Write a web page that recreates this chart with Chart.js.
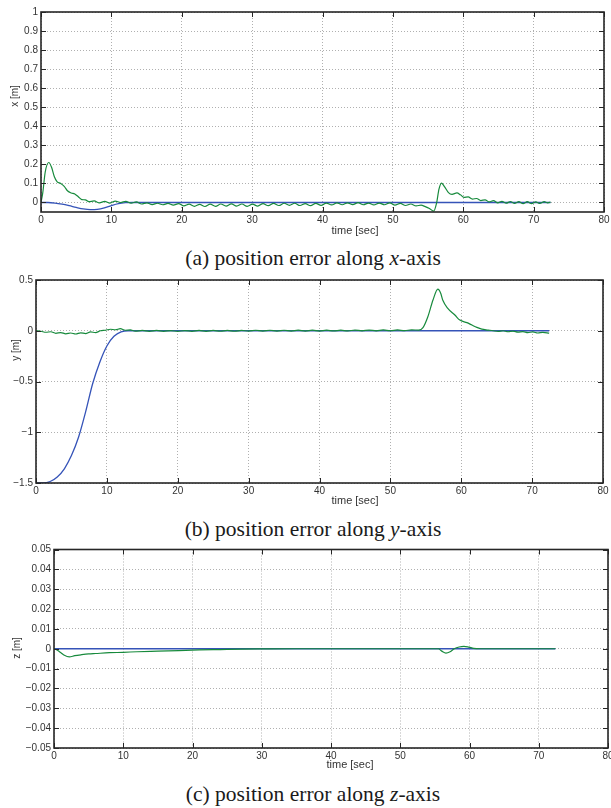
<!DOCTYPE html>
<html>
<head>
<meta charset="utf-8">
<script src="https://cdn.jsdelivr.net/npm/chart.js@4.4.1/dist/chart.umd.min.js"></script>
<style>
    html, body { margin: 0; padding: 0; background: #fff; }
    body { width: 611px; height: 808px; position: relative; overflow: hidden; }
    canvas { position: absolute; left: 0; }
    .caption {
        position: absolute;
        left: 0;
        width: 626px;
        text-align: center;
        font-family: 'Liberation Serif', 'Times New Roman', serif;
        font-size: 21.5px;
        line-height: 24px;
        color: #1a1a1a;
        white-space: nowrap;
    }
</style>
</head>
<body>
<canvas id="panelX" width="611" height="240" style="top:0px"></canvas>
<div class="caption" style="top:246px">(a) position error along <i>x</i>-axis</div>
<canvas id="panelY" width="611" height="240" style="top:268px"></canvas>
<div class="caption" style="top:517px">(b) position error along <i>y</i>-axis</div>
<canvas id="panelZ" width="611" height="240" style="top:537px"></canvas>
<div class="caption" style="top:782px">(c) position error along <i>z</i>-axis</div>

<script>
// shared time axis ticks
const timeTicks = [0, 10, 20, 30, 40, 50, 60, 70, 80];
const timeLabels = ['0', '10', '20', '30', '40', '50', '60', '70', '80'];

// (a) x-axis error
const xTicks = [0, 0.1, 0.2, 0.3, 0.4, 0.5, 0.6, 0.7, 0.8, 0.9, 1];
const xLabels = ['0', '0.1', '0.2', '0.3', '0.4', '0.5', '0.6', '0.7', '0.8', '0.9', '1'];
const xBlueTime = [0, 1, 2, 3, 4, 5, 6, 7, 8, 9, 10, 11, 12, 13, 72.4];
const xBlueValue = [0, 0, -0.003, -0.009, -0.017, -0.026, -0.034, -0.038, -0.036, -0.028, -0.016, -0.006, -0.001, 0, 0];
const xGreenTime = [
    0, 0.25, 0.6, 1.1, 1.5, 1.9, 2.3, 2.8, 3.3, 3.8, 4.3, 4.8, 5.3, 5.8, 6.3, 6.8,
    7.55, 8.3, 9.05, 9.8, 10.55, 11.3, 12.05, 12.8, 13.55, 14.3, 15.05, 15.8, 16.55, 17.3, 18.05, 18.8,
    19.55, 20.3, 21.05, 21.8, 22.55, 23.3, 24.05, 24.8, 25.55, 26.3, 27.05, 27.8, 28.55, 29.3, 30.05, 30.8,
    31.55, 32.3, 33.05, 33.8, 34.55, 35.3, 36.05, 36.8, 37.55, 38.3, 39.05, 39.8, 40.55, 41.3, 42.05, 42.8,
    43.55, 44.3, 45.05, 45.8, 46.55, 47.3, 48.05, 48.8, 49.55, 50.3, 51.05, 51.8, 52.55, 53.3, 54.0, 54.6,
    55.2, 55.8, 56.2, 56.55, 56.9, 57.3, 57.9, 58.4, 59.1, 59.6, 60.1, 60.7, 61.3, 61.9, 62.5, 63.1,
    63.7, 64.3, 64.9, 65.5, 66.1, 66.7, 67.3, 67.9, 68.5, 69.1, 69.7, 70.3, 70.9, 71.5, 72.0, 72.4
];
const xGreenValue = [
    0, 0.05, 0.16, 0.21, 0.185, 0.135, 0.108, 0.1, 0.085, 0.06, 0.05, 0.045, 0.03, 0.015, 0.014, 0.004,
    0.008, -0.002, 0.006, -0.003, 0.007, 0, 0.006, -0.003, 0.003, -0.008, -0.002, -0.011, -0.004, -0.012, -0.005, -0.014,
    -0.006, -0.018, -0.009, -0.02, -0.01, -0.021, -0.009, -0.02, -0.008, -0.019, -0.007, -0.019, -0.008, -0.02, -0.009, -0.019,
    -0.006, -0.017, -0.005, -0.016, -0.004, -0.015, -0.004, -0.016, -0.006, -0.017, -0.005, -0.015, -0.003, -0.013, -0.002, -0.012,
    -0.002, -0.011, -0.001, -0.012, -0.003, -0.013, -0.003, -0.012, -0.002, -0.014, -0.005, -0.016, -0.008, -0.018, -0.014, -0.022,
    -0.032, -0.045, -0.005, 0.07, 0.102, 0.085, 0.052, 0.043, 0.05, 0.04, 0.027, 0.029, 0.018, 0.021, 0.01, 0.014,
    0.003, 0.01, -0.002, 0.006, -0.004, 0.005, -0.005, 0.004, -0.006, 0.004, -0.006, 0.003, -0.005, 0.004, -0.002, 0.002
];

// (b) y-axis error
const yTicks = [-1.5, -1, -0.5, 0, 0.5];
const yLabels = ['\u22121.5', '\u22121', '\u22120.5', '0', '0.5'];
const yBlueTime = [0, 1, 2, 3, 4, 5, 6, 7, 8, 9, 10, 11, 12, 13, 72.4];
const yBlueValue = [-1.5, -1.5, -1.485, -1.44, -1.36, -1.23, -1.05, -0.8, -0.52, -0.31, -0.15, -0.055, -0.012, 0, 0];
const yGreenTime = [
    0, 0.7, 1.4, 2.1, 2.8, 3.5, 4.2, 4.9, 5.6, 6.3, 7.0, 7.7, 8.4, 9.1, 9.8, 10.5,
    11.2, 11.9, 12.6, 13.3, 14, 15, 16, 17, 18, 19, 20, 21, 22, 23, 24, 25,
    26, 27, 28, 29, 30, 31, 32, 33, 34, 35, 36, 37, 38, 39, 40, 41,
    42, 43, 44, 45, 46, 47, 48, 49, 50, 51, 52, 53, 54, 54.6, 55.3, 56.0,
    56.7, 57.1, 57.4, 58.1, 59.1, 59.8, 60.8, 61.5, 62.2, 62.9, 63.8, 64.5, 65.2, 65.9, 66.6, 67.3,
    68.0, 68.7, 69.4, 70.1, 70.8, 71.5, 72.4
];
const yGreenValue = [
    0, -0.005, -0.015, -0.01, -0.025, -0.018, -0.03, -0.022, -0.032, -0.02, -0.028, -0.012, -0.018, 0, 0.005, 0.015,
    0.01, 0.02, 0.005, 0.008, -0.004, 0.003, -0.006, 0.003, -0.006, 0.002, -0.007, 0.002, -0.006, 0.003, -0.006, 0.003,
    -0.005, 0.004, -0.005, 0.004, -0.004, 0.005, -0.004, 0.005, -0.004, 0.005, -0.003, 0.006, -0.003, 0.006, -0.003, 0.006,
    -0.002, 0.006, -0.002, 0.007, -0.001, 0.007, -0.001, 0.008, 0, 0.008, 0.001, 0.009, 0.006, 0.03, 0.14, 0.3,
    0.41, 0.37, 0.3, 0.22, 0.155, 0.105, 0.08, 0.056, 0.033, 0.016, 0.007, 0, -0.006, 0, -0.01, -0.004,
    -0.014, -0.008, -0.018, -0.012, -0.022, -0.016, -0.024
];

// (c) z-axis error
const zTicks = [-0.05, -0.04, -0.03, -0.02, -0.01, 0, 0.01, 0.02, 0.03, 0.04, 0.05];
const zLabels = ['\u22120.05', '\u22120.04', '\u22120.03', '\u22120.02', '\u22120.01', '0', '0.01', '0.02', '0.03', '0.04', '0.05'];
const zBlueTime = [0, 72.4];
const zBlueValue = [0, 0];
const zGreenTime = [
    0, 0.5, 1.0, 1.5, 2.2, 3, 4, 5, 6, 8, 10, 12, 15, 18, 21, 24,
    27, 30, 35, 40, 45, 50, 55.5, 56.0, 56.6, 57.2, 57.8, 58.5, 59.2, 59.9, 60.6, 61.5,
    65, 72.4
];
const zGreenValue = [
    0, -0.0008, -0.002, -0.0033, -0.0041, -0.0035, -0.003, -0.0026, -0.0024, -0.002, -0.0018, -0.0015, -0.0012, -0.0009, -0.0006, -0.0004,
    -0.0002, -0.0001, 0, 0, 0, 0, 0, -0.0012, -0.0022, -0.0015, 0, 0.0009, 0.0012, 0.0008, 0.0002, 0,
    0, 0
];

const BLUE = '#3553b8';
const GREEN = '#178a3c';
const TICK_FONT = { family: '"Liberation Sans", Arial, sans-serif', size: 10 };

function toPoints(times, values) {
    return times.map((t, i) => ({ x: t, y: values[i] }));
}

const framePlugin = {
    id: 'frame',
    afterDraw(chart, args, opts) {
        const { ctx, chartArea: a, scales } = chart;
        ctx.save();
        ctx.strokeStyle = '#262626';
        ctx.lineWidth = 1;
        ctx.beginPath();
        scales.x.ticks.forEach((tick) => {
            const px = Math.round(scales.x.getPixelForValue(tick.value)) + 0.5;
            ctx.moveTo(px, a.bottom);
            ctx.lineTo(px, a.bottom - 5);
            ctx.moveTo(px, a.top);
            ctx.lineTo(px, a.top + 5);
        });
        scales.y.ticks.forEach((tick) => {
            const py = Math.round(scales.y.getPixelForValue(tick.value)) + 0.5;
            ctx.moveTo(a.left, py);
            ctx.lineTo(a.left + 5, py);
            ctx.moveTo(a.right, py);
            ctx.lineTo(a.right - 5, py);
        });
        ctx.stroke();

        ctx.lineWidth = 1.6;
        ctx.strokeRect(a.left, a.top, a.right - a.left, a.bottom - a.top);

        ctx.fillStyle = '#333';
        ctx.textAlign = 'center';
        ctx.textBaseline = 'middle';
        ctx.font = '11px "Liberation Sans", Arial, sans-serif';
        ctx.fillText(opts.xTitle, opts.xTitleAt[0], opts.xTitleAt[1]);
        ctx.font = '10px "Liberation Sans", Arial, sans-serif';
        ctx.translate(opts.yTitleAt[0], opts.yTitleAt[1]);
        ctx.rotate(-Math.PI / 2);
        ctx.fillText(opts.yTitle, 0, 0);
        ctx.restore();
    },
};

function renderPanel(panel) {
    const canvas = document.getElementById(panel.id);

    if (!canvas) {
        return;
    }

    new Chart(canvas, {
        type: 'line',
        data: {
            datasets: [
                {
                    data: toPoints(panel.greenTime, panel.greenValue),
                    borderColor: GREEN,
                    borderWidth: 1.2,
                    cubicInterpolationMode: 'monotone',
                },
                {
                    data: toPoints(panel.blueTime, panel.blueValue),
                    borderColor: BLUE,
                    borderWidth: 1.3,
                    cubicInterpolationMode: 'monotone',
                },
            ],
        },
        options: {
            responsive: false,
            animation: false,
            elements: {
                point: { radius: 0 },
            },
            layout: {
                padding: { left: 0, top: panel.area.top, right: 611 - panel.area.right, bottom: 0 },
            },
            plugins: {
                legend: { display: false },
                tooltip: { enabled: false },
                frame: {
                    xTitle: 'time [sec]',
                    xTitleAt: panel.xTitleAt,
                    yTitle: panel.yTitle,
                    yTitleAt: panel.yTitleAt,
                },
            },
            scales: {
                x: {
                    type: 'linear',
                    min: 0,
                    max: 80,
                    afterBuildTicks: (axis) => {
                        axis.ticks = timeTicks.map((v) => ({ value: v }));
                    },
                    afterFit: (axis) => {
                        axis.height = canvas.height - panel.area.bottom;
                        axis.paddingLeft = 0;
                        axis.paddingRight = 0;
                    },
                    ticks: {
                        color: '#333',
                        font: TICK_FONT,
                        padding: 2,
                        maxRotation: 0,
                        autoSkip: false,
                        callback: (value, index) => timeLabels[index],
                    },
                    grid: { color: '#b0b0b0', lineWidth: 1, drawTicks: false },
                    border: { display: false, dash: [1, 2] },
                },
                y: {
                    type: 'linear',
                    min: panel.yMin,
                    max: panel.yMax,
                    afterBuildTicks: (axis) => {
                        axis.ticks = panel.yTicks.map((v) => ({ value: v }));
                    },
                    afterFit: (axis) => {
                        axis.width = panel.area.left;
                        axis.paddingTop = 0;
                        axis.paddingBottom = 0;
                    },
                    ticks: {
                        color: '#333',
                        font: TICK_FONT,
                        padding: 3,
                        autoSkip: false,
                        callback: (value, index) => panel.yLabels[index],
                    },
                    grid: { color: '#b0b0b0', lineWidth: 1, drawTicks: false },
                    border: { display: false, dash: [1, 2] },
                },
            },
        },
        plugins: [framePlugin],
    });
}

renderPanel({
    id: 'panelX',
    area: { left: 41, right: 604, top: 12, bottom: 212 },
    yMin: -0.05, yMax: 1,
    yTicks: xTicks, yLabels: xLabels,
    yTitle: 'x [m]', yTitleAt: [15, 96], xTitleAt: [355, 231],
    blueTime: xBlueTime, blueValue: xBlueValue,
    greenTime: xGreenTime, greenValue: xGreenValue,
});

renderPanel({
    id: 'panelY',
    area: { left: 36, right: 603, top: 12, bottom: 215 },
    yMin: -1.5, yMax: 0.5,
    yTicks: yTicks, yLabels: yLabels,
    yTitle: 'y [m]', yTitleAt: [16, 82], xTitleAt: [355, 233],
    blueTime: yBlueTime, blueValue: yBlueValue,
    greenTime: yGreenTime, greenValue: yGreenValue,
});

renderPanel({
    id: 'panelZ',
    area: { left: 54, right: 608, top: 12.5, bottom: 211 },
    yMin: -0.05, yMax: 0.05,
    yTicks: zTicks, yLabels: zLabels,
    yTitle: 'z [m]', yTitleAt: [17.5, 111], xTitleAt: [350, 228],
    blueTime: zBlueTime, blueValue: zBlueValue,
    greenTime: zGreenTime, greenValue: zGreenValue,
});
</script>
</body>
</html>
